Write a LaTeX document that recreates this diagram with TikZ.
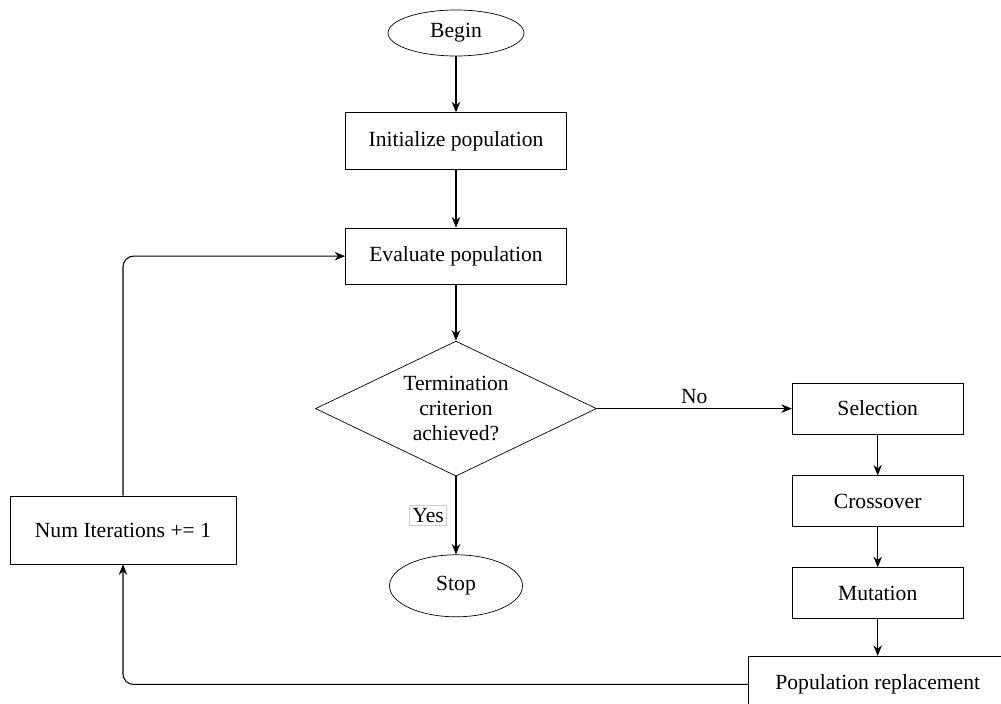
\documentclass[tikz,border=0pt]{standalone}
\usepackage{fontspec}
\setmainfont{Liberation Serif}
\usetikzlibrary{arrows.meta, positioning, shapes.geometric}

\begin{document}
\begin{tikzpicture}[
  >={Stealth[length=2.1mm, width=1.7mm]},
  every node/.style={font=\fontsize{12.3}{14.2}\selectfont},
  terminal/.style={
    draw,
    ellipse,
    minimum width=2.72cm,
    minimum height=0.92cm
  },
  process/.style={
    draw,
    align=center,
    minimum width=4.42cm,
    minimum height=1.13cm
  },
  stepbox/.style={
    draw,
    align=center,
    minimum width=3.42cm,
    minimum height=1.02cm
  },
  decision/.style={
    draw,
    diamond,
    aspect=2.08,
    align=center,
    inner sep=0pt,
    minimum width=5.62cm,
    minimum height=2.7cm
  },
  link/.style={->, line width=0.6pt},
  node distance=1.12cm and 3.9cm
]
\useasboundingbox (0,0) rectangle (20.02,14.08);

% Axe principal
\node[terminal] (begin) at (9.12,13.42) {Begin};
\node[process, below=of begin] (init) {Initialize population};
\node[process, below=1.16cm of init] (eval) {Evaluate population};
\node[decision, below=of eval] (crit)
  {Termination\\criterion\\achieved?};
\node[terminal, below=1.56cm of crit, minimum width=2.66cm,
  minimum height=1.24cm] (stop) {Stop};

% Branche de droite
\node[stepbox, right=of crit] (sel) {Selection};
\node[stepbox, below=0.82cm of sel] (cross) {Crossover};
\node[stepbox, below=0.8cm of cross] (mut) {Mutation};
\node[process, below=0.74cm of mut, minimum width=5.16cm] (repl)
  {Population replacement};

% Compteur
\node[process, minimum width=4.52cm, minimum height=1.36cm] (iter)
  at (2.46,3.48) {Num Iterations += 1};

% Connexions
\draw[link] (begin) -- (init);
\draw[link] (init) -- (eval);
\draw[link] (eval) -- (crit);
\draw[link] (crit) -- node[midway, left=0.18cm, draw=black!20,
  inner sep=1.5pt] {Yes} (stop);
\draw[link] (crit) -- node[midway, above=-1pt] {No} (sel);
\draw[link] (sel) -- (cross);
\draw[link] (cross) -- (mut);
\draw[link] (mut) -- (repl);

% Boucle
\draw[link, rounded corners=6pt] (repl.west) -| (iter.south);
\draw[link, rounded corners=6pt] (iter.north) |- (eval.west);

\end{tikzpicture}
\end{document}
